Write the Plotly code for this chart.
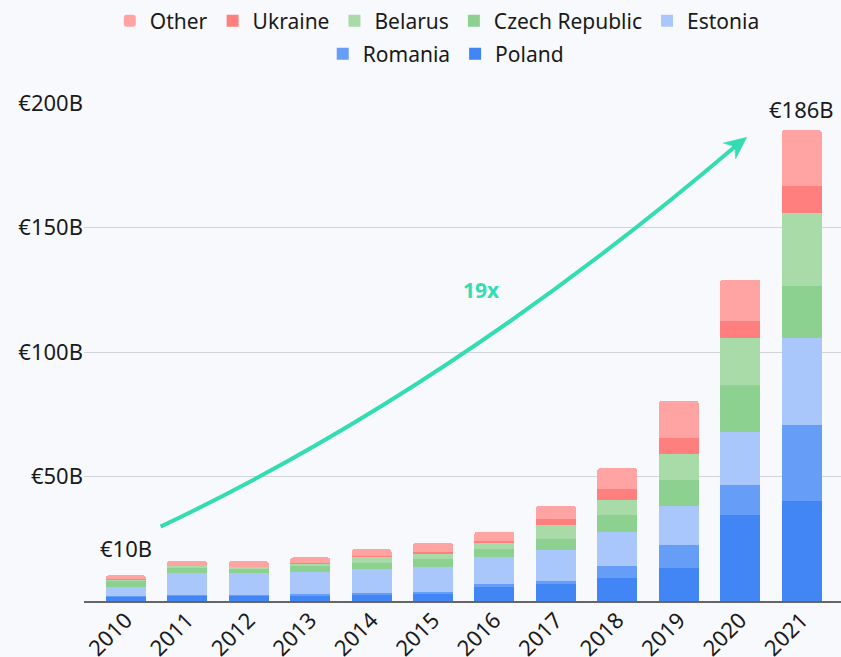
import plotly.graph_objects as go

years = ["2010", "2011", "2012", "2013", "2014", "2015", "2016", "2017", "2018", "2019", "2020", "2021"]
poland = [1.9, 2.2, 2.2, 2.3, 2.8, 3.2, 5.8, 6.8, 9.2, 13.1, 34.4, 40.0]
romania = [0.2, 0.3, 0.2, 0.4, 0.3, 0.6, 0.9, 1.4, 5.0, 9.2, 12.0, 30.6]
estonia = [3.6, 8.8, 8.7, 9.1, 9.6, 10.0, 11.1, 12.2, 13.6, 15.7, 21.3, 35.2]
czech = [2.5, 2.3, 1.6, 2.2, 2.4, 2.9, 2.9, 4.4, 6.9, 10.6, 19.0, 20.9]
belarus = [0.4, 0.5, 1.0, 1.2, 2.7, 2.4, 2.7, 5.6, 6.0, 10.6, 18.8, 29.2]
ukraine = [0.1, 0.1, 0.1, 0.1, 0.1, 0.7, 0.6, 2.4, 4.1, 6.4, 6.9, 10.6]
other = [1.6, 1.9, 2.2, 2.2, 2.9, 3.6, 3.9, 5.5, 8.6, 14.7, 16.7, 22.6]

series_names = ["Poland", "Romania", "Estonia", "Czech Republic", "Belarus", "Ukraine", "Other"]
series_vals = [poland, romania, estonia, czech, belarus, ukraine, other]
series_colors = ["#4285F4", "#669DF6", "#AAC7FC", "#8CD18F", "#A8DBA8", "#FF7F7F", "#FFA3A3"]
series_legend = ["legend2", "legend2", "legend", "legend", "legend", "legend", "legend"]

y_tick_vals = [50, 100, 150, 200]
y_tick_text = ["\u20ac50B", "\u20ac100B", "\u20ac150B", "\u20ac200B"]
end_labels = ["\u20ac10B", "\u20ac186B"]
growth_label = "19x"

totals = [sum(v) for v in zip(*series_vals)]

TEAL = "#33DDB1"
BG = "#F8F9FD"
FONT = "Noto Sans"

fig = go.Figure()
for name, vals, color, lg in zip(series_names, series_vals, series_colors, series_legend):
    marker = dict(color=color, line=dict(width=0))
    if name == "Other":  # top of every stack gets the rounded corners
        marker["cornerradius"] = 3
    fig.add_trace(go.Bar(x=years, y=vals, name=name, marker=marker, legend=lg))

# pixel -> paper helpers for the decorative arrow
PL, PT, PW, PH = 84, 103.3, 757, 498.4


def P(px, py):
    return (px - PL) / PW, (PT + PH - py) / PH


p0 = P(160.6, 527.3)
p1 = P(450, 390)
p2 = P(736, 146)
curve = "M {:.4f},{:.4f} Q {:.4f},{:.4f} {:.4f},{:.4f}".format(*p0, *p1, *p2)

tip = P(746.7, 137.7)
b1 = P(723.2, 143.4)
notch = P(734.9, 147.0)
b2 = P(735.6, 159.2)
head = "M {:.4f},{:.4f} L {:.4f},{:.4f} L {:.4f},{:.4f} L {:.4f},{:.4f} Z".format(*tip, *b1, *notch, *b2)

legend_common = dict(orientation="h", traceorder="reversed", xref="container",
                     yref="container", xanchor="center", yanchor="middle",
                     font=dict(size=21, family=FONT, color="#1a1a1a"),
                     itemwidth=30, bgcolor="rgba(0,0,0,0)", itemclick=False,
                     itemdoubleclick=False)

fig.update_layout(
    width=841, height=657,
    template="none",
    barmode="stack",
    bargap=0.35,
    paper_bgcolor=BG,
    plot_bgcolor=BG,
    font=dict(family=FONT, size=21, color="#1a1a1a"),
    margin=dict(l=84, r=0, t=103, b=56, autoexpand=False),
    showlegend=True,
    legend=dict(x=0.52, y=1 - 21 / 657, **legend_common),
    legend2=dict(x=0.53, y=1 - 54 / 657, **legend_common),
    xaxis=dict(type="category", range=[-0.68, 11.64], tickangle=-45,
               tickfont=dict(size=22), showgrid=False, showline=True,
               linecolor="#666666", linewidth=1.5, ticks="", automargin=False,
               zeroline=False, ticklabelstandoff=-4),
    yaxis=dict(range=[0, 200], tickmode="array", tickvals=y_tick_vals,
               ticktext=y_tick_text, tickfont=dict(size=22),
               gridcolor="#D2D3D8", gridwidth=1,
               showline=False, zeroline=False, ticks="", automargin=False),
    shapes=[
        dict(type="path", path=curve, xref="paper", yref="paper",
             line=dict(color=TEAL, width=4)),
        dict(type="path", path=head, xref="paper", yref="paper",
             fillcolor=TEAL, line=dict(color=TEAL, width=0.5)),
    ],
    annotations=[
        dict(x=0, y=totals[0], xref="x", yref="y", text=end_labels[0],
             showarrow=False, yanchor="bottom", yshift=10,
             font=dict(size=22, color="#1a1a1a")),
        dict(x=len(years) - 1, y=totals[-1], xref="x", yref="y", text=end_labels[1],
             showarrow=False, yanchor="bottom", yshift=4,
             font=dict(size=22, color="#1a1a1a")),
        dict(x=P(481, 290)[0], y=P(481, 290)[1], xref="paper", yref="paper",
             text="<b>" + growth_label + "</b>", showarrow=False,
             font=dict(size=21, color=TEAL)),
    ],
)

fig.write_html(
    "out.html",
    config={"displayModeBar": False},
    post_script="document.body.style.margin='0';document.body.style.background='%s';" % BG,
)
